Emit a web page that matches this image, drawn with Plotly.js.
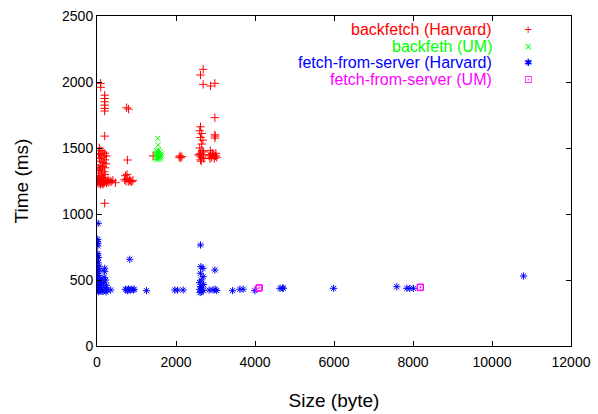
<!DOCTYPE html>
<html>
<head>
<meta charset="utf-8">
<script src="https://cdn.plot.ly/plotly-3.0.1.min.js"></script>
<style>html,body{margin:0;padding:0;background:#fff;}#chart{width:598px;height:414px;}</style>
</head>
<body>
<div id="chart"></div>
<script>
// backfetch (Harvard)
const bfHarvardX = [10,20,30,40,50,60,70,80,90,100,110,120,130,140,150,160,170,180,190,200,220,240,260,280,300,330,360,400,30,120,200,90,150,
  60,100,150,200,80,180,120,60,200,100,160,80,140,200,100,60,180,120,240,230,40,30,
  90,95,195,195,195,195,195,195,195,195,466,
  750,800,770,700,730,760,790,820,850,880,910,720,760,
  1420,2080,2100,2120,2150,
  2620,2600,2650,2620,2680,2650,2600,2660,2620,2680,2600,2650,2700,2620,2580,2700,2640,
  2687,2620,2687,2875,2984,2984,2984,2984,2990,
  2840,2870,2900,2940,2970,3000,3030,2860,2920,3010,2880,2960];
const bfHarvardY = [1240,1260,1250,1280,1230,1245,1265,1235,1255,1270,1240,1250,1230,1260,1245,1275,1235,1255,1240,1265,1250,1235,1245,1260,1240,1250,1245,1255,1290,1290,1300,1225,1225,
  1500,1480,1470,1460,1450,1440,1430,1420,1410,1400,1390,1370,1360,1350,1340,1330,1320,1310,1440,1380,1460,1350,
  1990,1960,1900,1875,1850,1825,1800,1780,1590,1081,1237,
  1805,1795,1409,1260,1250,1270,1245,1255,1250,1245,1255,1290,1300,
  1440,1430,1440,1425,1435,
  1661,1630,1610,1580,1560,1530,1500,1480,1460,1450,1440,1430,1420,1410,1450,1470,1400,
  2096,2053,1982,1970,1990,1730,1600,1575,1590,
  1440,1480,1430,1450,1420,1440,1430,1420,1460,1460,1450,1440];
// backfeth (UM)
const bfUMX = [1540,1550,1480,1500,1520,1540,1560,1580,1600,1620,1490,1510,1530,1550,1570,1590,1610,1630,1500,1560];
const bfUMY = [1573,1523,1420,1440,1460,1430,1450,1420,1470,1440,1460,1410,1475,1415,1465,1435,1425,1455,1480,1485];
// fetch-from-server (Harvard)
const ffsHarvardX = [30,20,15,20,20,20,0,40,10,30,0,50,20,60,10,40,0,70,30,50,10,60,20,40,0,70,30,50,90,110,130,100,120,80,
  195,195,180,220,160,240,200,260,150,230,347,
  829,720,760,800,840,880,920,940,780,
  1252,1970,2040,2181,
  2620,2630,2680,2620,2690,2640,2600,2700,2620,2660,2600,2690,2640,2610,
  2984,2840,2940,2990,3030,
  3432,3617,3700,3997,4631,4700,4716,5990,7590,7843,7920,8010,10799];
const ffsHarvardY = [929,808,790,778,758,700,690,670,650,630,610,600,585,570,550,535,520,510,495,480,470,460,450,440,430,425,415,410,420,430,415,460,480,500,
  589,563,520,500,480,460,440,425,415,410,424,
  657,430,424,432,425,430,424,430,418,
  419,424,424,424,
  765,601,588,551,525,500,480,465,450,440,430,420,410,405,
  576,424,424,430,420,
  419,430,430,419,437,440,437,437,449,437,437,437,530];
// fetch-from-server (UM)
const ffsUMX = [4090,4110,8180,8190];
const ffsUMY = [437,442,442,447];

const seriesNames = ['backfetch (Harvard)','backfeth (UM)','fetch-from-server (Harvard)','fetch-from-server (UM)'];
const seriesColors = ['#ff0000','#00ff00','#0000ff','#ff00ff'];
const seriesGlyphs = ['+','\u00d7','\u2731','\u22a1'];
const xTicks = [0,2000,4000,6000,8000,10000,12000];
const yTicks = [0,500,1000,1500,2000,2500];

const font = 'Liberation Sans, Arial, sans-serif';
function tr(x, y, i, sym, sz) {
  return {x: x, y: y, type: 'scatter', mode: 'markers', name: seriesNames[i], showlegend: false,
    marker: {symbol: sym, size: sz, color: seriesColors[i], line: {color: seriesColors[i], width: 1}}};
}
const data = [
  tr(bfHarvardX, bfHarvardY, 0, 'cross-thin-open', 6),
  tr(bfUMX, bfUMY, 1, 'x-thin-open', 5),
  tr(ffsHarvardX, ffsHarvardY, 2, 'asterisk-open', 6),
  tr(ffsUMX, ffsUMY, 3, 'square-open-dot', 6)
];

const legY = [0.958, 0.908, 0.858, 0.808];
const annotations = [];
seriesNames.forEach((n, i) => {
  annotations.push({xref: 'paper', yref: 'paper', x: 0.838, y: legY[i], xanchor: 'right', yanchor: 'middle',
    text: n, showarrow: false, font: {family: font, size: 16, color: seriesColors[i]}});
  annotations.push({xref: 'paper', yref: 'paper', x: 0.909, y: legY[i], xanchor: 'center', yanchor: 'middle',
    text: seriesGlyphs[i], showarrow: false, font: {family: 'DejaVu Sans, sans-serif', size: 10, color: seriesColors[i]}});
});

const axisCommon = {showline: true, linecolor: '#000', linewidth: 1, mirror: 'allticks', ticks: 'inside',
  ticklen: 5, tickcolor: '#000', showgrid: false, zeroline: false, tickfont: {family: font, size: 14, color: '#000'}};

const layout = {
  width: 598, height: 414,
  margin: {l: 97, r: 27, t: 16, b: 68},
  paper_bgcolor: '#fff', plot_bgcolor: '#fff',
  font: {family: font, color: '#000'},
  xaxis: Object.assign({}, axisCommon, {range: [0, 12000], tickvals: xTicks, ticktext: xTicks.map(String),
    ticklabelstandoff: 3,
    title: {text: 'Size (byte)', font: {family: font, size: 19}, standoff: 24}}),
  yaxis: Object.assign({}, axisCommon, {range: [0, 2500], tickvals: yTicks, ticktext: yTicks.map(String),
    title: {text: 'Time (ms)', font: {family: font, size: 19}, standoff: 28}}),
  annotations: annotations,
  showlegend: false
};
Plotly.newPlot('chart', data, layout, {displayModeBar: false, staticPlot: true});
</script>
</body>
</html>
